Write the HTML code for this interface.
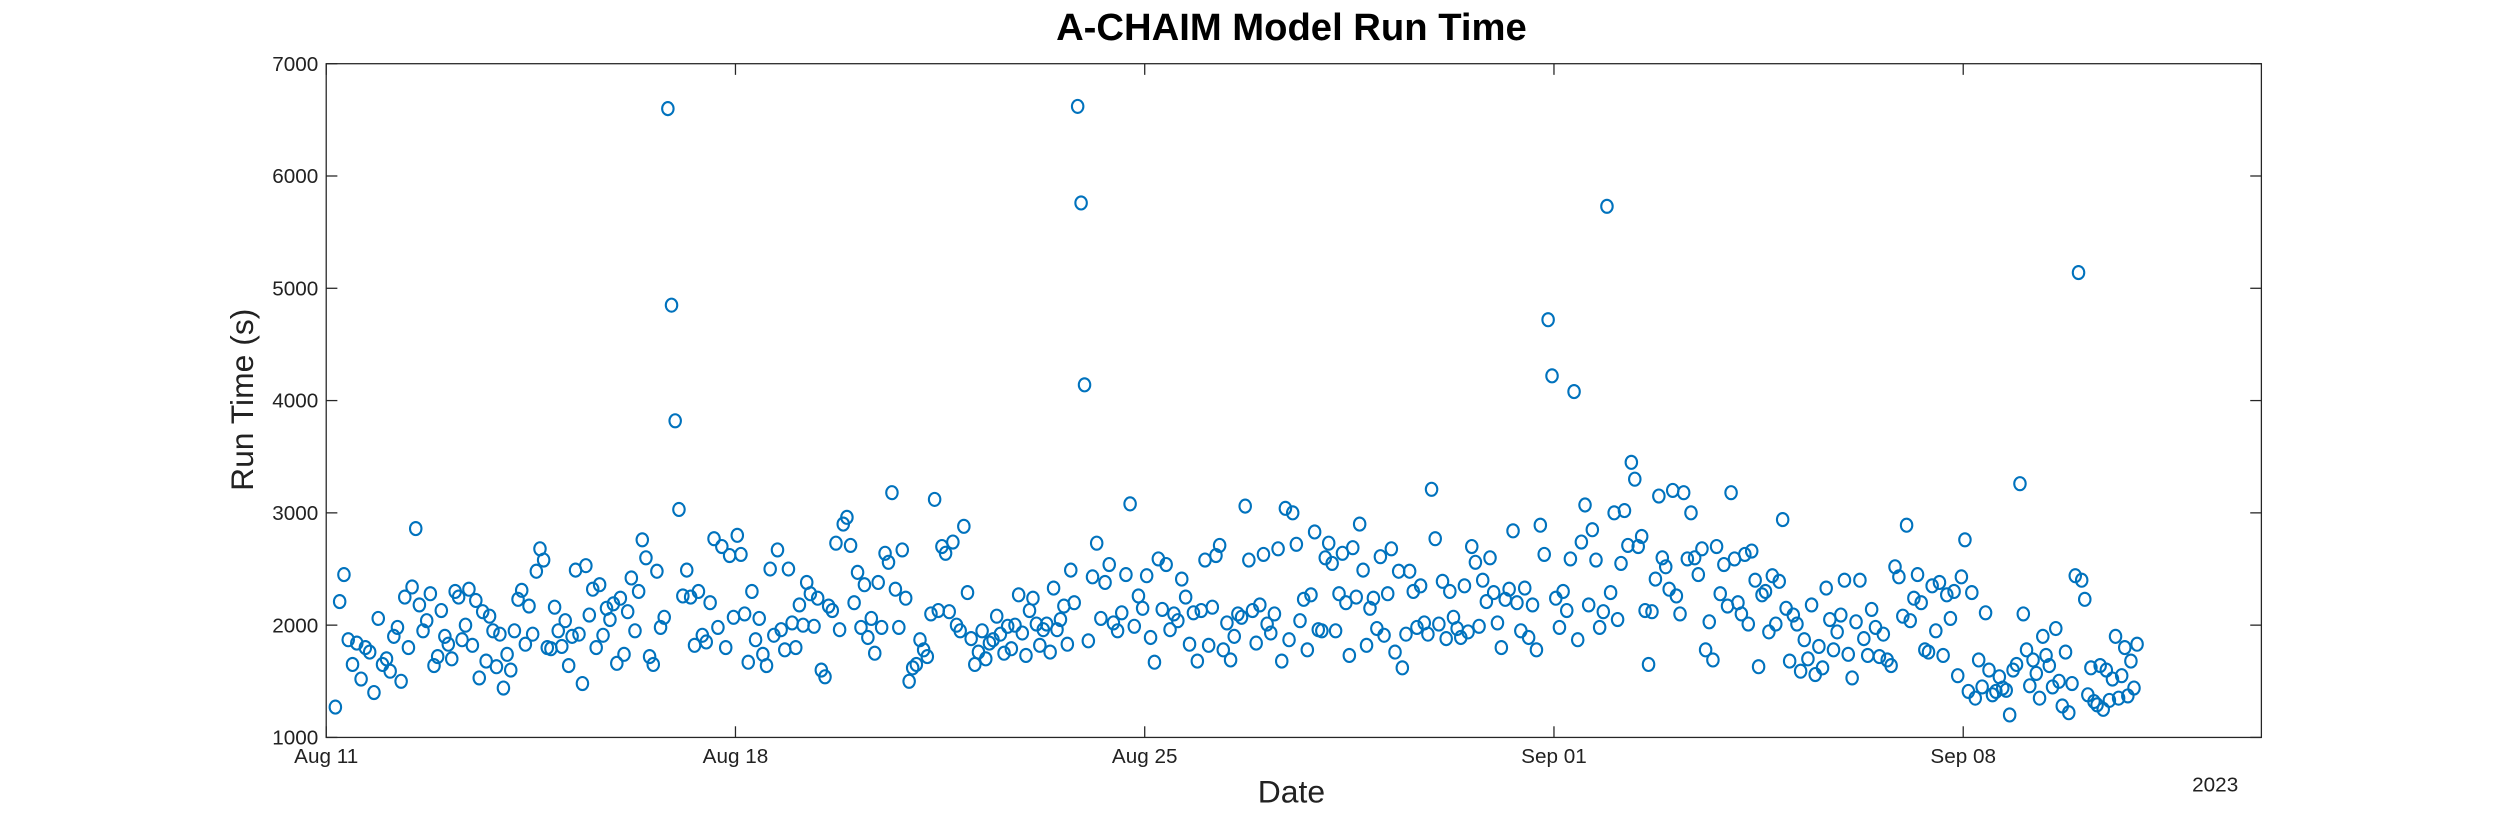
<!DOCTYPE html>
<html><head><meta charset="utf-8"><style>
html,body{margin:0;padding:0;background:#fff;}
svg{display:block;font-family:"Liberation Sans","DejaVu Sans",sans-serif;}
</style></head><body>
<svg id="chart" width="2500" height="833" viewBox="0 0 1568 523">
<rect width="1568" height="523" fill="#fff"/>
<text x="810" y="25" text-anchor="middle" font-size="24" font-weight="bold" fill="#000">A-CHAIM Model Run Time</text>
<g id="axes"></g>
<g id="points"></g>
<text x="810" y="504" text-anchor="middle" font-size="20" fill="#222">Date</text>
<text x="1390" y="497" text-anchor="middle" font-size="13" fill="#222">2023</text>
<text transform="translate(158,251) rotate(-90)" text-anchor="middle" font-size="20" fill="#222">Run Time (s)</text>
</svg>
<script>
const yTicks = [1000,2000,3000,4000,5000,6000,7000];
const xTickDays = [0,7,14,21,28];
const xTickLabels = ["Aug 11","Aug 18","Aug 25","Sep 01","Sep 08"];
const dayRange = [0, 33.1];
const valRange = [1000, 7000];
// run times in seconds, one array per day starting Aug 11
const runTimes = [
[1270,2210,2450,1870,1650,1840,1520,1800,1760,1400,2060,1650],
[1700,1590,1900,1980,1500,2250,1800,2340,2860,2180,1950,2040,2280,1640,1720,2130],
[1900,1830,1700,2300,2250,1870,2000,2320,1820,2220,1530,2120,1680,2080,1950,1630,1920],
[1440,1740,1600,1950,2230,2310,1830,2170,1920,2480,2680,2580,1800,1790,2160,1950],
[1810,2040,1640,1900,2490,1920,1480,2530,2090,2320,1800,2360,1910,2150,2050,2190,1660],
[2240,1740,2120,2420,1950,2300,2760,2600,1720,1650,2480,1980,2070,6600,4850,3820],
[3030,2260,2490,2250,1820,2300,1910,1850,2200,2770,1980,2700,1800,2620,2070],
[2800,2630,2100,1670,2300,1870,2060,1740,1640,2500,1910,2670,1960,1780,2500,2020],
[1800,2180,2000,2380,2280,1990,2240,1600,1540,2170,2130,2730,1960,2900,2960,2710],
[2200,2470,1980,2360,1890,2060,1750,2380,1980,2640,2560,3180,2320,1980,2670,2240,1500],
[1620,1650,1870,1780,1720,2100,3120,2130,2700,2640,2120,2740,2000,1950,2880,2290],
[1880,1650,1760,1950,1700,1840,1870,2080,1920,1750,1990,1790,2000,2270,1930,1730],
[2130,2240,2010,1820,1960,2010,1760,2330,1960,2050,2170,1830,2490,2200,6620,5760,4140],
[1860,2430,2730,2060,2380,2540,2020,1950,2110,2450,3080,1990,2260,2150],
[2440,1890,1670,2590,2140,2540,1960,2100,2040,2410,2250,1830,2110,1680,2130],
[2580,1820,2160,2620,2710,1780,2020,1690,1900,2100,2070,3060,2580,2130,1840,2180],
[2630,2010,1930,2100,2680,1680,3040,1870,3000,2720,2040,2230,1780,2270,2830,1960],
[1950,2600,2730,2550,1950,2280,2640,2200,1730,2690,2250,2900,2490,1820,2150,2240,1970],
[2610,1910,2280,2680,1760,2480,1620,1920,2480,2300,1980,2350,2020,1920,3210,2770],
[2010,2390,1880,2300,2070,1970,1890,2350,1940,2700,2560,1990,2400,2210,2600,2290],
[2020,1800,2230,2320,2840,2200,1950,2330,1890,2180,1780,2890,2630,4720,4220],
[2240,1980,2300,2130,2590,4080,1870,2740,3070,2180,2850,2580,1980,2120,5730,2290],
[3000,2050,2550,3020,2710,3450,3300,2700,2790,2130,1650,2120,2410,3150,2600,2520,2320],
[3200,2260,2100,3180,2590,3000,2600,2450,2680,1780,2030,1690,2700,2280,2540,2170],
[3180,2590,2200,2100,2630,2010,2660,2400,1630,2270,2300,1940,2440,2010,2390,2940,2150],
[1680,2090,2010,1590,1870,1700,2180,1560,1810,1620,2330,2050,1780,1940,2090,2400],
[1740,1530,2030,2400,1880,1730,2140,1980,1720,1920,1690,1640,2520,2430,2080],
[2890,2040,2240,2450,2200,1780,1760,2350,1950,2380,1730,2270,2060,2300,1550,2430],
[2760,1410,2290,1350,1690,1450,2110,1600,1380,1410,1540,1440,1420,1200,1600,1650,3260],
[2100,1780,1460,1690,1570,1350,1900,1730,1640,1450,1970,1500,1280,1760,1220,1480,2440,5140],
[2400,2230,1380,1620,1320,1290,1640,1250,1600,1330,1520,1900,1350,1550,1800,1370,1680,1440,1830]
];
const startDay = 0.12;
const lastDayEnd = 31.0;
</script>
<script>
const NS="http://www.w3.org/2000/svg";
const L=204,R=1419,T=40,B=463;
function xs(d){return L+(d-dayRange[0])/(dayRange[1]-dayRange[0])*(R-L);}
function ys(v){return B-(v-valRange[0])/(valRange[1]-valRange[0])*(B-T);}
function mk(tag,attrs,parent){const e=document.createElementNS(NS,tag);for(const k in attrs)e.setAttribute(k,attrs[k]);parent.appendChild(e);return e;}
const ax=document.getElementById('axes');
const frame=mk('rect',{x:L,y:T,width:R-L,height:B-T,fill:'none',stroke:'#262626','stroke-width':0.8},ax);


yTicks.forEach(v=>{
  const y=ys(v);
  const t1=mk('line',{x1:L,x2:L+7,y1:y,y2:y,stroke:'#262626','stroke-width':0.8},ax);
  
  
  const t2=mk('line',{x1:R,x2:R-7,y1:y,y2:y,stroke:'#262626','stroke-width':0.8},ax);
  
  
  const lb=mk('text',{x:L-5,y:y+4.5,'text-anchor':'end','font-size':13,fill:'#222'},ax);
  lb.textContent=v;
  
  
});
xTickDays.forEach((d,i)=>{
  const x=xs(d);
  const t1=mk('line',{x1:x,x2:x,y1:B,y2:B-7,stroke:'#262626','stroke-width':0.8},ax);
  
  
  const t2=mk('line',{x1:x,x2:x,y1:T,y2:T+7,stroke:'#262626','stroke-width':0.8},ax);
  
  
  const lb=mk('text',{x:x,y:479,'text-anchor':'middle','font-size':13,fill:'#222'},ax);
  lb.textContent=xTickLabels[i];
  
  
});
const pg=document.getElementById('points');
runTimes.forEach((arr,day)=>{
  const s=day===0?startDay:day, e=day===runTimes.length-1?lastDayEnd:day+1;
  arr.forEach((v,i)=>{
    const d=s+(i+0.5)/arr.length*(e-s);
    const c=mk('ellipse',{cx:xs(d),cy:ys(v),rx:3.6,ry:4.1,fill:'none',stroke:'#0072BD','stroke-width':1.3},pg);
    
    
  });
});
</script>
</body></html>
